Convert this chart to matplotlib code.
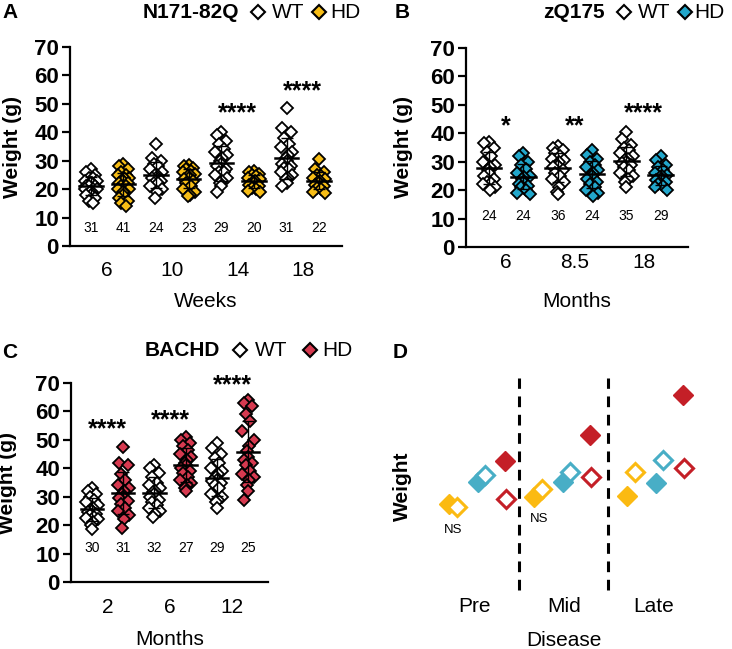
import matplotlib
matplotlib.use("Agg")
import matplotlib.pyplot as plt
from matplotlib.lines import Line2D
import numpy as np

plt.rcParams["font.family"] = ["Liberation Sans", "DejaVu Sans"]

W, H = 732, 649
YELLOW = "#F7BD16"
BLUE = "#22A7CB"
RED = "#D63A50"
D_YELLOW = "#FBBA12"
D_BLUE = "#48AEC6"
D_RED = "#C41F27"

# ---- panel A: N171-82Q, weight (g) per mouse ----
a_ages = ["6", "10", "14", "18"]
a_wt = [[27, 26, 25, 24, 24, 23, 23, 22, 22, 22, 21, 21, 21, 20, 20, 20, 19, 19, 18, 18, 17, 16, 15],
        [36, 31, 30, 29, 28, 27, 26, 25, 25, 24, 24, 23, 22, 22, 21, 20, 19, 17],
        [40, 39, 37, 36, 34, 33, 32, 31, 30, 29, 28, 27, 26, 26, 25, 24, 23, 22, 21, 19],
        [48.5, 41.5, 40, 38, 36, 35, 33, 32, 31, 30, 29, 28, 27.5, 27, 26, 25, 24, 23.5, 22, 21]]
a_hd = [[29, 28, 27, 26, 25, 25, 24, 24, 23, 23, 22, 22, 21, 21, 20, 20, 19, 19, 18, 17, 16, 15, 14],
        [28.5, 28, 27.5, 27, 26.5, 26, 25.5, 25, 24.5, 24, 23.5, 23, 22, 21, 20, 19, 18, 17.5],
        [26.5, 26, 25.5, 25, 24.5, 24, 23.5, 23, 22.5, 22, 21.5, 21, 20.5, 20, 19.5, 19],
        [30.5, 27, 26, 25, 24.5, 24, 23.5, 23, 22.5, 22, 21.5, 21, 20.5, 20, 19, 18.5]]
a_n = [31, 41, 24, 23, 29, 20, 31, 22]
a_sig = ["", "", "****", "****"]

# ---- panel B: zQ175 ----
b_ages = ["6", "8.5", "18"]
b_wt = [[37, 36.5, 35, 33.5, 32, 30, 29, 28, 27, 26, 25, 24, 23, 22.5, 22, 21, 20],
        [35.5, 35, 34, 33, 32, 31, 30.5, 30, 29, 28.5, 28, 27, 26, 25, 24, 23, 21, 19.5, 18.5],
        [40.5, 38, 36, 35, 34, 33, 32, 31, 30.5, 30, 29.5, 29, 28, 27, 26, 25, 24, 23, 21]]
b_hd = [[33, 32, 30, 29, 27.5, 26, 25, 24.5, 24, 23, 22, 21.5, 21, 20, 19, 18.5],
        [34, 32.5, 31, 30, 29, 28, 27, 26, 25.5, 25, 24, 23, 22, 21, 20, 19, 18],
        [32, 30.5, 29, 28, 27, 26, 25.5, 25, 24.5, 24, 23.5, 23, 22, 21.5, 21, 20]]
b_n = [24, 24, 36, 24, 35, 29]
b_sig = ["*", "**", "****"]

# ---- panel C: BACHD ----
c_ages = ["2", "6", "12"]
c_wt = [[33, 32, 31, 30, 29, 28, 27, 26, 25.5, 25, 24.5, 24, 23.5, 23, 22.5, 22, 21, 20, 18.5],
        [41, 40, 38.5, 37, 35, 34, 33, 32, 31.5, 31, 30, 29, 28, 27, 26, 25, 24, 23],
        [49, 47, 45, 43.5, 42, 40, 39, 38, 37, 36, 35.5, 35, 34, 33, 31, 30, 29, 28, 26]]
c_hd = [[47.5, 42, 41, 38, 36, 34, 33, 32, 31, 30, 29.5, 28.5, 27.5, 26, 25, 23.5, 22, 19],
        [51, 50, 49, 48, 46.5, 45, 44, 43, 42, 41, 40, 39, 38.5, 37, 36, 35, 34, 33, 32],
        [64, 63, 62, 59, 56.5, 53, 50, 48, 46, 44, 43, 42, 41, 39, 38, 37, 36, 34, 32, 29]]
c_n = [30, 31, 32, 27, 29, 25]
c_sig = ["****", "****", "****"]

# ---- panel D: schematic (relative weight, arbitrary units) ----
d_stages = ["Pre", "Mid", "Late"]
d_n171_hd = [4.1, 4.45, 4.5]
d_n171_wt = [3.95, 4.8, 5.6]
d_zq_hd = [5.15, 5.15, 5.1]
d_zq_wt = [5.5, 5.6, 6.2]
d_bachd_hd = [6.15, 7.4, 9.3]
d_bachd_wt = [4.35, 5.4, 5.8]

JITTER = [0.0, -0.14, 0.14, -0.07, 0.07, -0.18, 0.18, 0.03, -0.03]


def fx(px):
    return px / W


def fy(py):
    return 1 - py / H


def add_axes_px(l, t, r, b):
    return fig.add_axes([fx(l), fy(b), (r - l) / W, (b - t) / H])


def weight_panel(ax, ages, wt, hd, color, n, sig, star_y, xlim, n_y, pad, xlabel, xlab_y):
    for i in range(len(ages)):
        for j, (vals, face) in enumerate([(wt[i], "white"), (hd[i], color)]):
            x0 = 1 + 2 * i + j
            v = np.array(vals, dtype=float)
            xs = x0 + np.array([JITTER[k % len(JITTER)] for k in range(len(v))])
            ax.plot(xs, v, "D", ms=6, mfc=face, mec="black", mew=1.3, ls="none", zorder=3)
            m, s = v.mean(), v.std(ddof=1)
            ax.plot([x0 - 0.36, x0 + 0.36], [m, m], color="black", lw=1.8, zorder=5)
            ax.errorbar(x0, m, yerr=s, color="black", capsize=4, lw=1.0, capthick=1.0, zorder=5)
            ax.text(x0, n_y, str(n[2 * i + j]), ha="center", va="center", fontsize=10)
        if sig[i]:
            ax.text(1.5 + 2 * i, star_y[i], sig[i], ha="center", va="center",
                    fontsize=18, fontweight="bold")
    ax.set_xlim(*xlim)
    ax.set_ylim(0, 70)
    ax.set_yticks(range(0, 71, 10))
    ax.set_xticks([1.5 + 2 * i for i in range(len(ages))])
    ax.set_xticklabels(ages, fontsize=15)
    for lab in ax.get_yticklabels():
        lab.set_fontweight("bold")
        lab.set_fontsize(16)
    ax.tick_params(axis="y", length=6, width=1.6, pad=2)
    ax.tick_params(axis="x", length=0, pad=pad)
    for sp in ["top", "right"]:
        ax.spines[sp].set_visible(False)
    for sp in ["left", "bottom"]:
        ax.spines[sp].set_linewidth(1.6)
    ax.text(0.5, xlab_y, xlabel, transform=ax.transAxes, ha="center", va="center", fontsize=15)


def panel_title(y, name, x_name, x_m1, x_wt, x_m2, x_hd, color):
    fig.text(fx(x_name), fy(y), name, fontsize=15, fontweight="bold", ha="left", va="center")
    fig.add_artist(Line2D([fx(x_m1)], [fy(y)], marker="D", ms=7, mfc="white", mec="black",
                          mew=1.5, transform=fig.transFigure))
    fig.text(fx(x_wt), fy(y), "WT", fontsize=15, ha="left", va="center")
    fig.add_artist(Line2D([fx(x_m2)], [fy(y)], marker="D", ms=7, mfc=color, mec="black",
                          mew=1.5, transform=fig.transFigure))
    fig.text(fx(x_hd), fy(y), "HD", fontsize=15, ha="left", va="center")


fig = plt.figure(figsize=(W / 100, H / 100), dpi=100)

# A
axA = add_axes_px(70, 47, 342, 246)
weight_panel(axA, a_ages, a_wt, a_hd, YELLOW, a_n, a_sig, [0, 0, 46.6, 54.4],
             (0.36, 8.7), 6.3, 11, "Weeks", -0.28)
axA.text(-0.21, 0.5, "Weight (g)", transform=axA.transAxes, rotation=90,
         ha="center", va="center", fontsize=15, fontweight="bold")
fig.text(fx(2), fy(12), "A", fontsize=15, fontweight="bold", va="center")
panel_title(12, "N171-82Q", 143, 258, 272, 319, 330, YELLOW)

# B
axB = add_axes_px(466, 48, 688, 247)
weight_panel(axB, b_ages, b_wt, b_hd, BLUE, b_n, b_sig, [42.4, 42.4, 47.0],
             (0.33, 6.79), 10.9, 4, "Months", -0.276)
axB.text(-0.28, 0.5, "Weight (g)", transform=axB.transAxes, rotation=90,
         ha="center", va="center", fontsize=15, fontweight="bold")
fig.text(fx(395), fy(12), "B", fontsize=15, fontweight="bold", va="center")
panel_title(12, "zQ175", 543, 624, 638, 685, 694, BLUE)

# C
axC = add_axes_px(71, 383, 268, 582)
weight_panel(axC, c_ages, c_wt, c_hd, RED, c_n, c_sig, [53.7, 56.8, 69.1],
             (0.33, 6.64), 12.1, 11.5, "Months", -0.29)
axC.text(-0.32, 0.5, "Weight (g)", transform=axC.transAxes, rotation=90,
         ha="center", va="center", fontsize=15, fontweight="bold")
fig.text(fx(2), fy(352), "C", fontsize=15, fontweight="bold", va="center")
panel_title(350, "BACHD", 145, 240, 255, 310, 322, RED)

# D
axD = add_axes_px(434, 380, 708, 590)
axD.set_xlim(0, 10)
axD.set_ylim(0, 10)
axD.axis("off")
stage_x = np.array([0.0, 3.1, 6.5])
for hd_vals, wt_vals, col, off, woff in [(d_n171_hd, d_n171_wt, D_YELLOW, 0.55, 0.3),
                                         (d_zq_hd, d_zq_wt, D_BLUE, 1.6, 0.25),
                                         (d_bachd_hd, d_bachd_wt, D_RED, 2.6, 0.03)]:
    axD.plot(stage_x + off, hd_vals, "D", ms=10, mfc=col, mec=col, ls="none", clip_on=False, zorder=3)
    axD.plot(stage_x + off + woff, wt_vals, "D", ms=9, mfc="white", mec=col, mew=2.2,
             ls="none", clip_on=False, zorder=4)
axD.annotate("", xy=(0, 10.05), xytext=(0, -0.05),
             arrowprops=dict(arrowstyle="-|>", lw=2.6, color="black", mutation_scale=20))
axD.annotate("", xy=(10.05, 0), xytext=(-0.05, 0),
             arrowprops=dict(arrowstyle="-|>", lw=2.6, color="black", mutation_scale=20))
for xv in [3.1, 6.35]:
    axD.plot([xv, xv], [0, 10.1], color="black", lw=2.2, ls=(0, (3.5, 2.5)), clip_on=False)
axD.text(0.7, 2.86, "NS", ha="center", va="center", fontsize=9.5)
axD.text(3.84, 3.37, "NS", ha="center", va="center", fontsize=9.5)
for xv, lab in zip([1.46, 4.74, 8.0], d_stages):
    axD.text(xv, -0.78, lab, ha="center", va="center", fontsize=15)
axD.text(4.74, -2.4, "Disease", ha="center", va="center", fontsize=15)
axD.text(-1.14, 4.95, "Weight", rotation=90, ha="center", va="center", fontsize=15,
         fontweight="bold")
fig.text(fx(393), fy(352), "D", fontsize=15, fontweight="bold", va="center")

fig.savefig("out.png", dpi=100)
